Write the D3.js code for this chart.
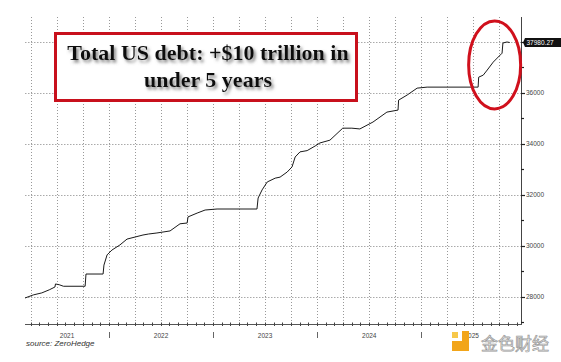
<!DOCTYPE html>
<html><head><meta charset="utf-8">
<script src="https://cdn.jsdelivr.net/npm/d3@7"></script>
<style>html,body{margin:0;padding:0;background:#fff;}svg{display:block;}</style>
</head><body>
<svg id="c" width="561" height="362"></svg>
<script>
// ---- data ----
const dates = ["2021-03-12","2021-04-10","2021-05-10","2021-06-05","2021-06-25","2021-06-27","2021-07-10","2021-07-25",
"2021-10-09","2021-10-12","2021-12-11","2021-12-14","2021-12-25","2022-01-11","2022-02-08","2022-03-05","2022-04-02",
"2022-04-30","2022-05-20","2022-06-18","2022-08-03","2022-09-07","2022-10-02","2022-10-05","2022-11-06","2022-12-04",
"2023-01-15","2023-06-04","2023-06-08","2023-06-22","2023-07-10","2023-08-07","2023-08-24","2023-09-18","2023-10-05",
"2023-10-16","2023-11-02","2023-11-27","2023-12-25","2024-01-11","2024-02-15","2024-03-31","2024-05-02","2024-05-30",
"2024-07-15","2024-09-02","2024-10-11","2024-10-13","2024-11-12","2024-12-17","2025-01-21","2025-07-19","2025-07-21",
"2025-08-06","2025-08-20","2025-09-10","2025-09-24","2025-10-11","2025-10-14","2025-10-28","2025-11-07"];
const debt = [27960,28080,28160,28280,28390,28510,28480,28420,
28420,28900,28900,29250,29650,29840,30040,30270,30350,
30430,30470,30510,30590,30870,30900,31140,31290,31410,
31450,31450,31880,32200,32510,32660,32700,32900,33100,
33490,33690,33740,33920,34040,34150,34620,34620,34590,
34860,35250,35330,35720,35920,36190,36230,36230,36620,
36700,36900,37210,37370,37560,37960,38000,37980.27];
const yTicks = [28000,30000,32000,34000,36000,38000];
const yLabels = ["28000","30000","32000","34000","36000",""];
const years = ["2021","2022","2023","2024","2025"];
const lastLabel = "37980.27";
const titleLines = ["Total US debt: +$10 trillion in","under 5 years"];
const sourceText = "source: ZeroHedge";
const watermark = "金色财经";

// ---- scales ----
const parse = d3.utcParse("%Y-%m-%d");
const x = d3.scaleUtc().domain([parse("2021-03-12"), parse("2025-12-20")]).range([25, 522]);
const y = d3.scaleLinear().domain([26940, 38980]).range([324, 17]);
const svg = d3.select("#c");
const pTop = 17, pBottom = 324, pLeft = 25, pRight = 522;

// grid: quarterly verticals
const quarters = d3.utcMonth.every(3).range(parse("2021-04-01"), parse("2025-12-20"));
svg.append("g").selectAll("line").data(quarters).join("line")
  .attr("x1", d => Math.round(x(d)) + 0.5).attr("x2", d => Math.round(x(d)) + 0.5)
  .attr("y1", pTop).attr("y2", pBottom)
  .attr("stroke", "#999").attr("stroke-width", 1).attr("stroke-dasharray", "1,2");
// horizontal grid
svg.append("g").selectAll("line").data(yTicks).join("line")
  .attr("x1", pLeft).attr("x2", pRight)
  .attr("y1", d => Math.round(y(d)) + 0.5).attr("y2", d => Math.round(y(d)) + 0.5)
  .attr("stroke", "#aaa").attr("stroke-width", 1).attr("stroke-dasharray", "1.5,1.5");

// x axis line + monthly ticks
svg.append("line").attr("x1", pLeft).attr("x2", pRight).attr("y1", pBottom + 0.5).attr("y2", pBottom + 0.5)
  .attr("stroke", "#555").attr("stroke-width", 1);
const months = d3.utcMonth.range(parse("2021-04-01"), parse("2025-12-20"));
svg.append("g").selectAll("line").data(months).join("line")
  .attr("x1", d => Math.round(x(d)) + 0.5).attr("x2", d => Math.round(x(d)) + 0.5)
  .attr("y1", pBottom - 1.5).attr("y2", pBottom + 2)
  .attr("stroke", "#444").attr("stroke-width", 1);
// year separators & labels
const yearStarts = years.slice(1).map(yr => parse(yr + "-01-01"));
svg.append("g").selectAll("line").data(yearStarts).join("line")
  .attr("x1", d => Math.round(x(d)) + 0.5).attr("x2", d => Math.round(x(d)) + 0.5)
  .attr("y1", 332).attr("y2", 338).attr("stroke", "#666");
svg.append("g").selectAll("text").data(years).join("text")
  .attr("x", (yr, i) => {
    const a = Math.max(pLeft, x(parse(yr + "-01-01")));
    const b = Math.min(pRight, x(parse((+yr + 1) + "-01-01")));
    return (a + b) / 2;
  })
  .attr("y", 338).attr("text-anchor", "middle")
  .attr("font-family", "Liberation Sans, Arial, sans-serif").attr("font-size", 6.5).attr("fill", "#444")
  .text(d => d);

// y axis
svg.append("line").attr("x1", pRight - 0.5).attr("x2", pRight - 0.5).attr("y1", pTop).attr("y2", pBottom)
  .attr("stroke", "#444").attr("stroke-width", 1);
const minor = d3.range(27000, 39000, 1000);
svg.append("g").selectAll("line").data(minor).join("line")
  .attr("x1", pRight - 1).attr("x2", d => pRight + (d % 2000 === 0 ? 3 : 2))
  .attr("y1", d => Math.round(y(d)) + 0.5).attr("y2", d => Math.round(y(d)) + 0.5)
  .attr("stroke", "#222").attr("stroke-width", 1.2);
svg.append("g").selectAll("text").data(yTicks).join("text")
  .attr("x", pRight + 4).attr("y", d => y(d) + 2.3)
  .attr("font-family", "Liberation Sans, Arial, sans-serif").attr("font-size", 6.5).attr("fill", "#444")
  .text((d, i) => yLabels[i]);

// line
const pts = dates.map((d, i) => [parse(d), debt[i]]);
svg.append("path").datum(pts)
  .attr("fill", "none").attr("stroke", "#1a1a1a").attr("stroke-width", 1)
  .attr("stroke-linejoin", "round")
  .attr("d", d3.line().x(d => x(d[0])).y(d => y(d[1])));

// last value box
const lastY = y(debt[debt.length - 1]);
svg.append("path")
  .attr("d", `M${pRight + 1},${lastY} L${pRight + 3},${lastY - 4.5} H561 V${lastY + 4.5} H${pRight + 3} Z`)
  .attr("fill", "#111");
svg.append("text").attr("x", pRight + 4.5).attr("y", lastY + 2.3)
  .attr("font-family", "Liberation Sans, Arial, sans-serif").attr("font-size", 6.5).attr("fill", "#fff")
  .text(lastLabel);

// title box
const defs = svg.append("defs");
const f = defs.append("filter").attr("id", "sh").attr("x", "-10%").attr("y", "-30%").attr("width", "130%").attr("height", "170%");
f.append("feDropShadow").attr("dx", 2).attr("dy", 2.5).attr("stdDeviation", 1.4).attr("flood-color", "#777").attr("flood-opacity", 0.9);
svg.append("rect").attr("x", 55.5).attr("y", 33.5).attr("width", 301).attr("height", 67)
  .attr("fill", "#fff").attr("stroke", "#c8101c").attr("stroke-width", 3);
svg.append("g").attr("filter", "url(#sh)").selectAll("text").data(titleLines).join("text")
  .attr("x", 208).attr("y", (d, i) => 60 + i * 27).attr("text-anchor", "middle")
  .attr("font-family", "Liberation Serif, Times New Roman, serif").attr("font-weight", "bold")
  .attr("font-size", 22).attr("fill", "#111")
  .text(d => d);

// ellipse highlight
svg.append("ellipse").attr("cx", x(parse("2025-09-15"))).attr("cy", y(37100)).attr("rx", 26).attr("ry", 44)
  .attr("fill", "none").attr("stroke", "#d0101c").attr("stroke-width", 3);

// source
svg.append("text").attr("x", 26).attr("y", 346)
  .attr("font-family", "Liberation Sans, Arial, sans-serif").attr("font-style", "italic")
  .attr("font-size", 8).attr("fill", "#333").text(sourceText);

// watermark
const wm = svg.append("g");
wm.append("rect").attr("x", 452).attr("y", 332).attr("width", 6).attr("height", 6).attr("fill", "#f7c84a");
wm.append("rect").attr("x", 462).attr("y", 331).attr("width", 7).attr("height", 20).attr("fill", "#f2a51a");
wm.append("rect").attr("x", 452).attr("y", 341).attr("width", 17).attr("height", 10).attr("fill", "#f2a51a");
wm.append("text").attr("x", 481).attr("y", 350)
  .attr("font-family", "Noto Sans CJK SC, sans-serif").attr("font-size", 17)
  .attr("fill", "#eeeeee").attr("stroke", "#9a9a9a").attr("stroke-width", 0.7)
  .text(watermark);
</script>
</body></html>
